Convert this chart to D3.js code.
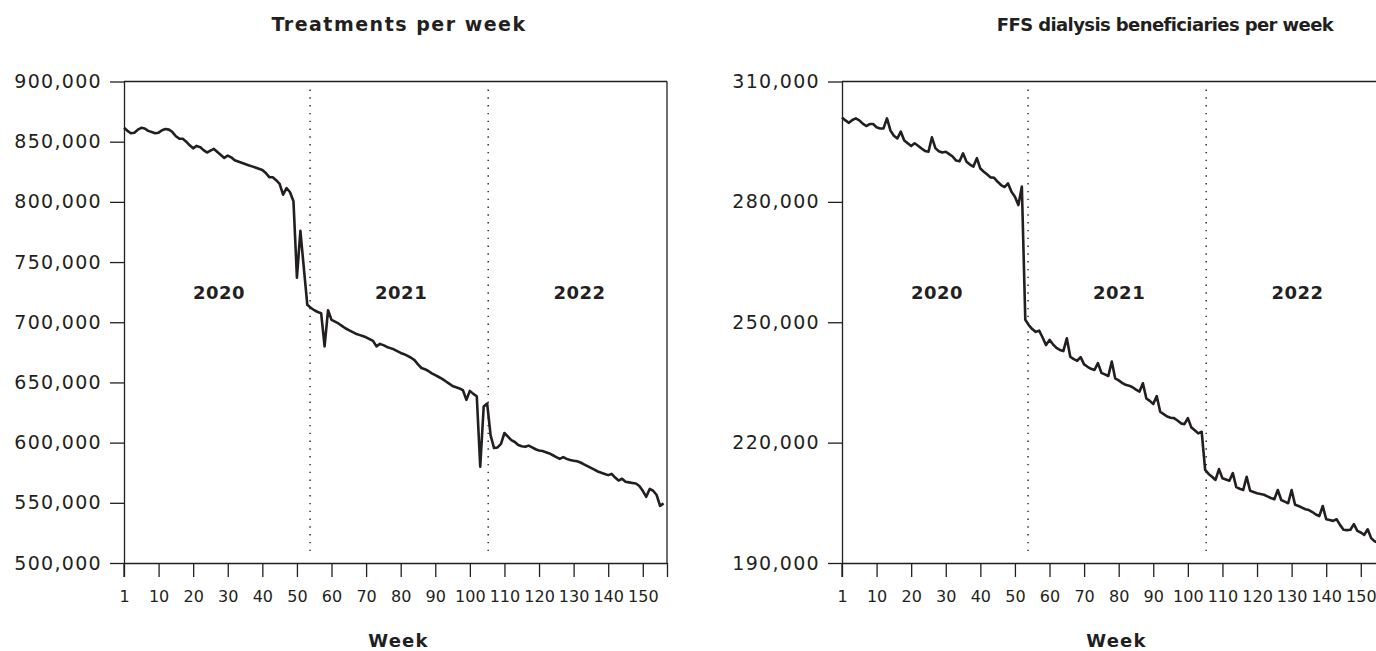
<!DOCTYPE html>
<html>
<head>
<meta charset="utf-8">
<script src="https://cdn.jsdelivr.net/npm/d3@7"></script>
<style>
  body { margin: 0; background: #fff; }
  svg { display: block; }
</style>
</head>
<body>
<div id="chart"></div>
<script>
// ---------------- data ----------------
const weekTicks = [0, 10, 20, 30, 40, 50, 60, 70, 80, 90, 100, 110, 120, 130, 140, 150];
const yearLabels = ['2020', '2021', '2022'];
const yearBreaks = [53.8, 105.3];   // dotted separators, in week index

const treatmentTicks = [500000, 550000, 600000, 650000, 700000, 750000, 800000, 850000, 900000];
const beneficiaryTicks = [190000, 220000, 250000, 280000, 310000];

// treatments per week, index 0 = week 1
const treatments = [
  861500, 859000, 857000, 857500, 860000, 861500, 861000, 859000, 858000, 857000,
  857500, 859500, 860500, 860000, 858000, 854500, 852500, 852500, 850000, 847000,
  844500, 846500, 845500, 843000, 841000, 842500, 844000, 841500, 839000, 836500,
  838500, 837000, 834500, 833500, 832500, 831500, 830500, 829500, 828500, 827500,
  826500, 824000, 820500, 820500, 818000, 815000, 806000, 811500, 808000, 800500,
  737000, 776000, 745000, 714500, 712000, 710000, 708500, 707500, 680000, 710000,
  702000, 700500, 699000, 697000, 695000, 693500, 692000, 690500, 689500, 688500,
  687500, 686000, 684500, 680000, 682000, 681000, 679500, 678500, 677500, 676000,
  674500, 673500, 672000, 670500, 668500, 665000, 662000, 661000, 659500, 657500,
  656000, 654500, 653000, 651000, 649000, 647000, 646000, 645000, 643500, 635500,
  643000, 640500, 638500, 580000, 630000, 632500, 606000, 595500, 596000, 599000,
  608000, 605000, 602000, 600500, 598000, 597000, 596500, 597500, 596000, 594500,
  593500, 593000, 592000, 591000, 589500, 588000, 586500, 588000, 586500, 585500,
  585000, 584500, 583500, 582000, 580500, 579000, 577500, 576000, 575000, 574000,
  573000, 574000, 571000, 568500, 570000, 567500, 567000, 566500, 566000, 564000,
  560000, 555000, 561500, 560000, 556500, 547500, 549500
];

// FFS dialysis beneficiaries per week, index 0 = week 1
const beneficiaries = [
  301000, 300300, 299700, 300400, 300800, 300300, 299500, 298900, 299400, 299400,
  298600, 298300, 298300, 300800, 297800, 296500, 295800, 297500, 295300, 294600,
  293900, 294600, 294000, 293300, 292700, 292500, 296100, 293400, 292600, 292300,
  292500, 291900, 291300, 290300, 290100, 292100, 290000, 289300, 288800, 290900,
  288300, 287500, 286800, 286100, 286000, 285000, 284200, 283700, 284600, 282500,
  281300, 279200, 283800, 250600, 249300, 248300, 247600, 247900, 246200, 244300,
  245600, 244500, 243600, 243100, 242800, 246000, 241400, 240800, 240400, 241300,
  239500, 238900, 238400, 238100, 239800, 237400, 237000, 236600, 240200, 236000,
  235500, 234900, 234400, 234200, 233800, 233200, 232700, 234800, 231000, 230400,
  229600, 231600, 227700, 227100, 226500, 226200, 226100, 225500, 224800, 224600,
  226100, 223800, 223100, 222300, 222700, 213200, 212200, 211500, 210700, 213400,
  211100, 210800, 210500, 212400, 208900, 208500, 208200, 211500, 208000, 207700,
  207400, 207200, 207000, 206600, 206200, 205900, 208200, 205700, 205300, 204900,
  208200, 204500, 204200, 203800, 203400, 203200, 202700, 202100, 201700, 204200,
  200900, 200700, 200500, 200900, 199500, 198300, 198200, 198300, 199700, 198000,
  197600, 197000, 198400, 196200, 195400, 195100, 194800
];

// ---------------- layout ----------------
const ink = '#231f20';
const font = '"DejaVu Sans", sans-serif';
const totalWidth = 1376, totalHeight = 651;
const plotWidth = 543;
const plotTop = 81.5, plotBottom = 563;
const lastWeek = 157;

const svg = d3.select('#chart').append('svg')
  .attr('width', totalWidth)
  .attr('height', totalHeight);

function drawPanel(opts){
  const g = svg.append('g').attr('transform', 'translate(' + opts.left + ',0)');

  const xScale = d3.scaleLinear().domain([0, lastWeek]).range([0, plotWidth]);
  const yScale = d3.scaleLinear()
    .domain([opts.ticks[0], opts.ticks[opts.ticks.length - 1]])
    .range([plotBottom, plotTop]);

  //--------------------- axes ---------------------
  const yAxis = d3.axisLeft(yScale)
    .tickValues(opts.ticks)
    .tickSize(14)
    .tickSizeOuter(0)
    .tickPadding(8)
    .tickFormat(d3.format(','));
  const yAxisView = g.append('g').call(yAxis);

  const xAxis = d3.axisBottom(xScale)
    .tickValues(weekTicks.concat([lastWeek]))
    .tickSize(14)
    .tickSizeOuter(0)
    .tickPadding(14)
    .tickFormat(d => d === 0 ? '1' : (d === lastWeek ? '' : d));
  const xAxisView = g.append('g')
    .attr('transform', 'translate(0,' + plotBottom + ')')
    .call(xAxis);

  [yAxisView, xAxisView].forEach(v => {
    v.attr('font-family', font);
    v.select('.domain').attr('stroke', ink).attr('stroke-width', 1.3);
    v.selectAll('line').attr('stroke', ink).attr('stroke-width', 1.3);
    v.selectAll('text').attr('fill', ink);
  });
  yAxisView.attr('font-size', 19).selectAll('text').attr('letter-spacing', 1.3);
  xAxisView.attr('font-size', 16);

  // y axis line continues down to the x tick length, plus top and right frame
  g.append('line')
    .attr('x1', 0).attr('x2', 0)
    .attr('y1', plotBottom).attr('y2', plotBottom + 14)
    .attr('stroke', ink).attr('stroke-width', 1.3);
  g.append('line')
    .attr('x1', 0).attr('x2', plotWidth)
    .attr('y1', plotTop).attr('y2', plotTop)
    .attr('stroke', ink).attr('stroke-width', 1.3);
  g.append('line')
    .attr('x1', plotWidth).attr('x2', plotWidth)
    .attr('y1', plotTop).attr('y2', plotBottom)
    .attr('stroke', ink).attr('stroke-width', 1.3);

  //--------------------- year separators ---------------------
  g.append('g').selectAll('line')
    .data(yearBreaks)
    .enter()
    .append('line')
    .attr('x1', d => xScale(d)).attr('x2', d => xScale(d))
    .attr('y1', plotTop + 8).attr('y2', plotBottom - 6)
    .attr('stroke', ink)
    .attr('stroke-width', 1.4)
    .attr('stroke-dasharray', '1.4 6.4');

  const bounds = [0].concat(yearBreaks, [lastWeek]);
  g.append('g').selectAll('text')
    .data(yearLabels)
    .enter()
    .append('text')
    .attr('x', (d, i) => xScale((bounds[i] + bounds[i + 1]) / 2) + 2)
    .attr('y', 298.5)
    .attr('text-anchor', 'middle')
    .attr('font-family', font)
    .attr('font-weight', 'bold')
    .attr('font-size', 18)
    .attr('letter-spacing', 0.5)
    .attr('fill', ink)
    .text(d => d);

  //--------------------- line ---------------------
  const line = d3.line()
    .x((d, i) => xScale(i))
    .y(d => yScale(d));
  g.append('path')
    .datum(opts.values)
    .attr('d', line)
    .attr('fill', 'none')
    .attr('stroke', ink)
    .attr('stroke-width', 2.6)
    .attr('stroke-linejoin', 'round');

  //--------------------- titles ---------------------
  g.append('text')
    .attr('x', opts.titleX)
    .attr('y', 31)
    .attr('text-anchor', 'middle')
    .attr('font-family', font)
    .attr('font-weight', 'bold')
    .attr('font-size', opts.titleSize)
    .attr('letter-spacing', opts.titleSpacing)
    .attr('fill', ink)
    .text(opts.title);

  g.append('text')
    .attr('x', plotWidth / 2 + 3)
    .attr('y', 647)
    .attr('text-anchor', 'middle')
    .attr('font-family', font)
    .attr('font-weight', 'bold')
    .attr('font-size', 18)
    .attr('letter-spacing', 1.2)
    .attr('fill', ink)
    .text('Week');
}

drawPanel({
  left: 124,
  values: treatments,
  ticks: treatmentTicks,
  title: 'Treatments per week',
  titleX: 275,
  titleSize: 19,
  titleSpacing: 1.5
});

drawPanel({
  left: 842,
  values: beneficiaries,
  ticks: beneficiaryTicks,
  title: 'FFS dialysis beneficiaries per week',
  titleX: 323,
  titleSize: 18,
  titleSpacing: -0.6
});
</script>
</body>
</html>
